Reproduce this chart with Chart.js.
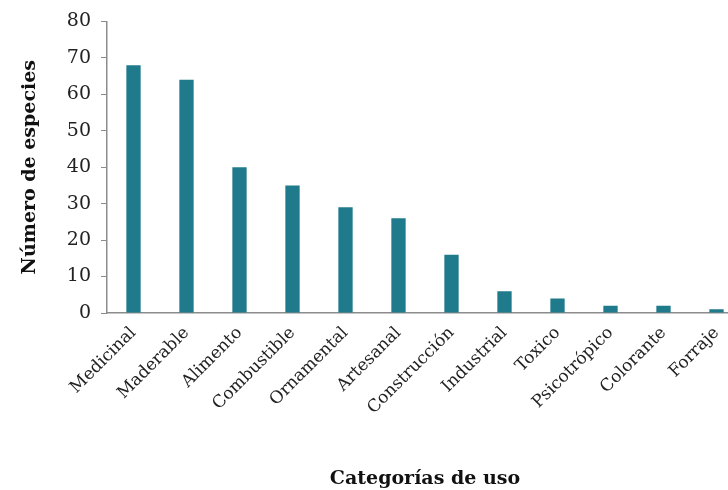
<!DOCTYPE html>
<html>
<head>
<meta charset="utf-8">
<script src="https://cdn.jsdelivr.net/npm/chart.js@4"></script>
<style>
  html, body { margin: 0; padding: 0; background: #fff; overflow: hidden; }
  #wrap { width: 750px; height: 490px; }
</style>
</head>
<body>
<div id="wrap"><canvas id="usos"></canvas></div>
<script>
// categorías de uso y número de especies en cada una
const categorias = ["Medicinal", "Maderable", "Alimento", "Combustible", "Ornamental", "Artesanal",
                    "Construcción", "Industrial", "Toxico", "Psicotrópico", "Colorante", "Forraje"];
const especies = [68, 64, 40, 35, 29, 26, 16, 6, 4, 2, 2, 1];

const serif = "'DejaVu Serif', 'Liberation Serif', serif";
const gris = "#8c8c8c";

const config = {
  type: "bar",
  data: {
    labels: categorias,
    datasets: [{
      label: "Número de especies",
      data: especies,
      backgroundColor: "#1f7b8b",
      barPercentage: 0.27,
      categoryPercentage: 1
    }]
  },
  options: {
    responsive: true,
    maintainAspectRatio: false,
    animation: false,
    layout: { padding: { top: 20, right: 7, left: 19, bottom: 0 } },
    plugins: { legend: { display: false }, tooltip: { enabled: false } },
    scales: {
      x: {
        offset: true,
        grid: { display: false },
        border: { display: true, color: gris, width: 1.5 },
        ticks: {
          autoSkip: false, maxRotation: 45, minRotation: 45,
          color: "#222", font: { family: serif, size: 17 }, padding: 2
        },
        title: {
          display: true, text: "Categorías de uso", color: "#111",
          font: { family: serif, size: 19, weight: "bold" }, padding: { top: 0, bottom: 0 }
        },
        afterFit: (s) => { s.height = 177; }
      },
      y: {
        min: 0, max: 80,
        grid: { drawOnChartArea: false, drawTicks: true, tickLength: 6, color: gris },
        border: { display: true, color: gris, width: 1.5 },
        ticks: { stepSize: 10, color: "#222", font: { family: serif, size: 19 }, padding: 10 },
        title: {
          display: true, text: "Número de especies", color: "#111",
          font: { family: serif, size: 19, weight: "bold" }, padding: { top: 0, bottom: 6 }
        },
        afterFit: (s) => { s.width = 88; }
      }
    }
  }
};

new Chart(document.getElementById("usos"), config);
</script>
</body>
</html>
